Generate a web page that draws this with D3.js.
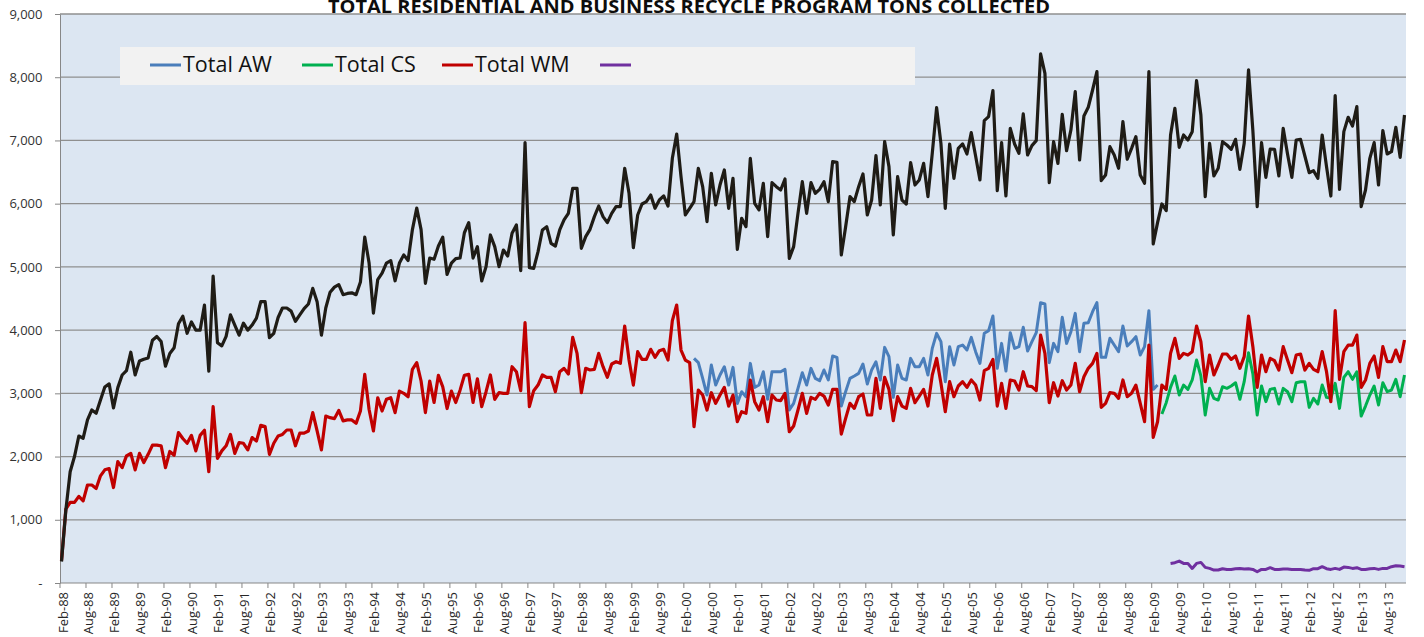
<!DOCTYPE html>
<html>
<head>
<meta charset="utf-8">
<script src="https://cdn.jsdelivr.net/npm/d3@7"></script>
<style>
  body { margin: 0; background: #fff; }
  svg { display: block; font-family: "Open Sans", sans-serif; }
</style>
</head>
<body>
<div class="chart"></div>
<script>
// monthly tons, Feb-88 .. Dec-13
var firstMonth = new Date(1988, 1, 1);
var months = d3.timeMonth.range(firstMonth, new Date(2014, 0, 1));

var yTicks = [0, 1000, 2000, 3000, 4000, 5000, 6000, 7000, 8000, 9000];

var titleText = "TOTAL RESIDENTIAL AND BUSINESS RECYCLE PROGRAM TONS COLLECTED";
var legendNames = ["Total AW", "Total CS", "Total WM", ""];

// grand total (black line, no legend entry)
var totalAll = [
  340, 1150, 1760, 2000, 2325, 2290, 2580, 2737, 2685, 2895, 3100, 3150,
  2770, 3090, 3290, 3360, 3650, 3290, 3510, 3540, 3560, 3840, 3900, 3820,
  3430, 3630, 3720, 4100, 4220, 3950, 4130, 4000, 4000, 4397, 3350, 4856,
  3800, 3750, 3900, 4240, 4080, 3920, 4110, 4000, 4080, 4190, 4450, 4450,
  3880, 3950, 4200, 4350, 4350, 4300, 4140, 4240, 4340, 4413, 4660, 4450,
  3920, 4350, 4600, 4680, 4720, 4560, 4580, 4590, 4560, 4760, 5470, 5060,
  4270, 4800, 4900, 5060, 5100, 4780, 5060, 5190, 5100, 5590, 5930, 5590,
  4740, 5140, 5120, 5330, 5470, 4880, 5060, 5130, 5140, 5540, 5700, 5140,
  5320, 4777, 5004, 5505, 5320, 5004, 5267, 5172, 5531, 5663, 4940, 6965,
  4988, 4977, 5241, 5584, 5636, 5373, 5330, 5584, 5742, 5847, 6243, 6243,
  5294, 5478, 5594, 5795, 5963, 5795, 5700, 5847, 5953, 5953, 6559, 6164,
  5304, 5821, 5995, 6032, 6137, 5926, 6058, 6122, 5963, 6717, 7102, 6427,
  5821, 5926, 6032, 6559, 6269, 5716, 6480, 5979, 6295, 6533, 5926, 6401,
  5278, 5768, 5636, 6717, 6005, 5900, 6322, 5478, 6332, 6269, 6216, 6390,
  5135, 5320, 5847, 6348, 5847, 6332, 6164, 6227, 6348, 6032, 6665, 6654,
  5188, 5636, 6111, 6032, 6269, 6470, 5821, 6058, 6760, 5979, 6981, 6586,
  5505, 6427, 6058, 5995, 6649, 6295, 6375, 6638, 6111, 6800, 7520, 6950,
  5926, 6944, 6401, 6875, 6944, 6786, 7123, 6754, 6375, 7313, 7377, 7788,
  6206, 6965, 6121, 7192, 6944, 6796, 7419, 6770, 6918, 6997, 8368, 8062,
  6332, 6981, 6638, 7413, 6838, 7166, 7772, 6691, 7387, 7524, 7798, 8088,
  6364, 6454, 6902, 6770, 6559, 7297, 6702, 6875, 7060, 6454, 6322, 8088,
  5362, 5700, 5995, 5890, 7086, 7508, 6891, 7086, 7007, 7139, 7946, 7403,
  6111, 6955, 6438, 6559, 6981, 6928, 6860, 7018, 6543, 6955, 8115, 7155,
  5953, 6965, 6417, 6865, 6860, 6438, 7192, 6786, 6417, 7007, 7018, 6754,
  6490, 6522, 6401, 7086, 6586, 6121, 7709, 6227, 7139, 7366, 7229, 7535,
  5953, 6216, 6717, 6965, 6295, 7155, 6786, 6823, 7208, 6733, 7403
];

var totalWM = [
  350, 1170, 1275, 1275, 1370, 1300, 1550, 1550, 1495, 1695, 1790, 1810,
  1510, 1920, 1825, 2010, 2050, 1790, 2050, 1905, 2035, 2180, 2180, 2170,
  1825, 2080, 2020, 2380, 2285, 2210, 2335, 2090, 2335, 2415, 1760, 2790,
  1970, 2090, 2170, 2350, 2050, 2220, 2210, 2105, 2300, 2245, 2495, 2475,
  2035, 2210, 2325, 2350, 2420, 2420, 2170, 2370, 2370, 2405, 2695, 2405,
  2105, 2640, 2615, 2600, 2730, 2565, 2580, 2580, 2525, 2720, 3300, 2745,
  2405, 2930, 2720, 2905, 2930, 2695, 3035, 3000, 2945, 3380, 3485, 3195,
  2695, 3195, 2855, 3285, 3105, 2760, 3035, 2855, 3050, 3285, 3300, 2855,
  3230, 2789, 3026, 3290, 2905, 3010, 3000, 3000, 3421, 3342, 3042, 4117,
  2789, 3042, 3131, 3290, 3253, 3253, 3026, 3342, 3395, 3305, 3885, 3632,
  3010, 3395, 3369, 3379, 3632, 3421, 3253, 3464, 3500, 3474, 4065, 3527,
  3131, 3659, 3537, 3537, 3696, 3569, 3675, 3696, 3527, 4149, 4397, 3685,
  3527, 3485, 2472, 3052, 2973, 2736, 3010, 2841, 2973, 3094, 2799, 2973,
  2551, 2710, 2683, 3211, 2868, 2736, 2947, 2551, 2973, 2894, 2884, 3000,
  2393, 2483, 2736, 3000, 2683, 2936, 2905, 3000, 2957, 2815, 3063, 3063,
  2356, 2604, 2841, 2762, 2947, 2989, 2657, 2657, 3237, 2762, 3253, 3063,
  2567, 2947, 2799, 2762, 3079, 2852, 2957, 3063, 2799, 3290, 3553, 3158,
  2710, 3184, 2947, 3116, 3184, 3094, 3211, 3131, 2894, 3358, 3395, 3537,
  2799, 3158, 2762, 3211, 3195, 3052, 3342, 3116, 3105, 3042, 3922, 3632,
  2852, 3168, 2957, 3200, 3052, 3131, 3474, 3026, 3263, 3395, 3474, 3632,
  2778, 2841, 3010, 3000, 2920, 3211, 2947, 3000, 3131, 2841, 2551, 3764,
  2304, 2551, 3131, 3063, 3632, 3870, 3553, 3632, 3606, 3659, 4065, 3817,
  3184, 3606, 3290, 3448, 3622, 3622, 3537, 3590, 3395, 3580, 4223, 3738,
  3094, 3606, 3342, 3553, 3516, 3369, 3738, 3527, 3326, 3606, 3622, 3369,
  3474, 3379, 3342, 3659, 3342, 2868, 4307, 3221, 3659, 3764, 3764, 3922,
  3094, 3211, 3474, 3590, 3253, 3738, 3501, 3501, 3685, 3501, 3843
];

// Total AW runs Jun-00 .. Jun-09
var awStart = 146;
var totalAW = [
  3553, 3485, 3237, 2973, 3448, 3131, 3290, 3421, 3131, 3411, 2841, 3026,
  2947, 3474, 3094, 3131, 3342, 2905, 3342, 3342, 3342, 3379, 2736, 2841,
  3079, 3326, 3131, 3395, 3237, 3200, 3369, 3211, 3590, 3569, 2799, 3026,
  3237, 3274, 3316, 3464, 3147, 3369, 3500, 3211, 3727, 3580, 2936, 3448,
  3237, 3211, 3553, 3421, 3421, 3553, 3290, 3711, 3949, 3817, 3184, 3738,
  3448, 3738, 3764, 3685, 3885, 3659, 3474, 3949, 3991, 4223, 3395, 3790,
  3353, 3959, 3711, 3738, 4044, 3669, 3817, 3959, 4434, 4413, 3485, 3790,
  3659, 4202, 3790, 3975, 4265, 3659, 4107, 4117, 4291, 4434, 3569, 3569,
  3870, 3764, 3659, 4065, 3748, 3817, 3896, 3606, 3738, 4307, 3063, 3131
];

// Total CS runs Apr-09 .. Dec-13
var csStart = 254;
var totalCS = [
  2673, 2852, 3094, 3274, 2973, 3131, 3063, 3211, 3527, 3274, 2657, 3079,
  2921, 2894, 3105, 3079, 3116, 3168, 2905, 3184, 3643, 3305, 2657, 3116,
  2868, 3063, 3079, 2831, 3079, 3026, 2868, 3168, 3184, 3184, 2778, 2921,
  2831, 3131, 2936, 2921, 3158, 2762, 3253, 3342, 3221, 3342, 2641, 2799,
  2973, 3116, 2815, 3168, 3026, 3052, 3221, 2947, 3290
];

// unnamed purple series, Jun-09 .. Dec-13
var otherStart = 256;
var totalOther = [
  310, 321, 347, 310, 310, 231, 310, 326, 247, 231, 205, 205,
  226, 215, 215, 226, 231, 221, 226, 215, 178, 215, 215, 242,
  215, 215, 221, 221, 215, 215, 215, 205, 200, 226, 226, 258,
  226, 215, 231, 215, 252, 247, 231, 242, 215, 215, 226, 231,
  215, 231, 231, 258, 273, 268, 258
];

var svgWidth = 1424;
var svgHeight = 637;

var margin = { top: 14, right: 18, bottom: 54, left: 60 };
var width = svgWidth - margin.left - margin.right;
var height = svgHeight - margin.top - margin.bottom;

var svg = d3.select(".chart")
  .append("svg")
    .attr("width", svgWidth)
    .attr("height", svgHeight);

var chart = svg.append("g")
    .attr("transform", "translate(" + margin.left + "," + margin.top + ")");

var x = d3.scaleLinear().domain([0, months.length - 1]).range([1.5, width - 1.5]);
var y = d3.scaleLinear().domain([0, 9000]).range([height, 0]);

// plot area
chart.append("rect")
    .attr("width", width)
    .attr("height", height)
    .attr("fill", "#dce6f2");

chart.selectAll(".grid")
    .data(yTicks.slice(1))
    .enter().append("line")
    .attr("class", "grid")
    .attr("x1", 0)
    .attr("x2", width)
    .attr("y1", function(d) { return y(d); })
    .attr("y2", function(d) { return y(d); })
    .attr("stroke", "#8f8f8f")
    .attr("stroke-width", 1.3);

// y axis
var yAxis = d3.axisLeft(y)
    .tickValues(yTicks)
    .tickSize(5)
    .tickSizeOuter(0)
    .tickPadding(12.5)
    .tickFormat(function(d) { return d === 0 ? "-" : d3.format(",")(d); });

var yg = chart.append("g").call(yAxis);
yg.select(".domain").attr("stroke", "#878787");
yg.selectAll(".tick line").attr("stroke", "#878787");
yg.selectAll(".tick text")
    .attr("fill", "#333")
    .style("font-size", "13px")
    .style("font-family", "'Open Sans', sans-serif");

// x axis, a tick every six months
var tickIdx = d3.range(0, months.length, 6);
var fmtMonth = d3.timeFormat("%b-%y");

var xAxis = d3.axisBottom(x)
    .tickValues(tickIdx)
    .tickSize(5)
    .tickSizeOuter(0)
    .tickFormat(function(i) { return fmtMonth(months[i]); });

var xg = chart.append("g")
    .attr("transform", "translate(-2," + height + ")")
    .call(xAxis);
xg.select(".domain").remove();
xg.selectAll(".tick line").attr("stroke", "#878787");
xg.selectAll(".tick text")
    .attr("transform", "rotate(-90)")
    .attr("text-anchor", "end")
    .attr("x", -9)
    .attr("y", 7.5)
    .attr("dy", 0)
    .attr("fill", "#262626")
    .style("font-size", "13px")
    .style("font-family", "'Open Sans', sans-serif");

chart.append("line")
    .attr("x1", 0)
    .attr("x2", width)
    .attr("y1", height)
    .attr("y2", height)
    .attr("stroke", "#878787");

// series lines
var series = [
  { values: totalAW, start: awStart, color: "#4a7ebb", w: 3 },
  { values: totalCS, start: csStart, color: "#00b050", w: 3 },
  { values: totalWM, start: 0, color: "#c00000", w: 3.2 },
  { values: totalOther, start: otherStart, color: "#7030a0", w: 3 },
  { values: totalAll, start: 0, color: "#1f1c16", w: 3.2 }
];

series.forEach(function(s) {
  var line = d3.line()
      .x(function(d, i) { return x(s.start + i); })
      .y(function(d) { return y(d); });

  chart.append("path")
      .datum(s.values)
      .attr("fill", "none")
      .attr("stroke", s.color)
      .attr("stroke-width", s.w)
      .attr("stroke-linejoin", "round")
      .attr("d", line);
});

// legend
var legendX = [150, 302, 442, 600];

svg.append("rect")
    .attr("x", 120)
    .attr("y", 47)
    .attr("width", 795)
    .attr("height", 38)
    .attr("fill", "#f2f2f2");

var legend = svg.selectAll(".legend")
    .data(legendNames)
    .enter().append("g")
    .attr("class", "legend")
    .attr("transform", function(d, i) { return "translate(" + legendX[i] + ",65)"; });

legend.append("line")
    .attr("x1", 0)
    .attr("x2", 31)
    .attr("stroke", function(d, i) { return series[i].color; })
    .attr("stroke-width", 3);

legend.append("text")
    .attr("x", 33)
    .attr("y", 6.8)
    .attr("fill", "#111")
    .style("font-size", "21.5px")
    .text(function(d) { return d; });

// title sits right at the top edge
svg.append("text")
    .attr("x", 689)
    .attr("y", 12.5)
    .attr("text-anchor", "middle")
    .attr("textLength", 722)
    .attr("lengthAdjust", "spacingAndGlyphs")
    .attr("font-weight", "bold")
    .attr("fill", "#0d0d0d")
    .style("font-size", "17px")
    .text(titleText);
</script>
</body>
</html>
